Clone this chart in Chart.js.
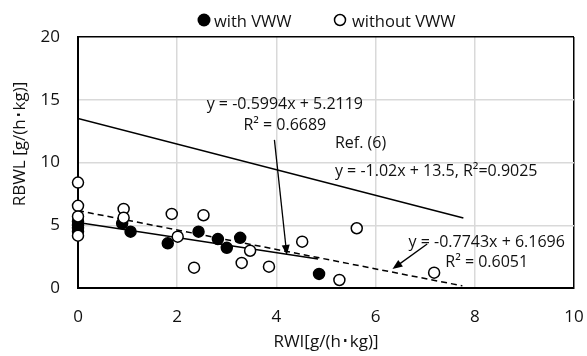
<!DOCTYPE html>
<html>
<head>
<meta charset="utf-8">
<script src="https://cdn.jsdelivr.net/npm/chart.js@4/dist/chart.umd.min.js"></script>
<style>
  html, body { margin: 0; padding: 0; background: #fff; }
  .chart-box { width: 587px; height: 356px; }
</style>
</head>
<body>
<div class="chart-box"><canvas id="rbwlChart"></canvas></div>
<script>
// measured points: with VWW (filled circles)
const withX = [0, 0, 0, 0, 0.89, 1.06, 1.81, 2.43, 2.82, 3.0, 3.27, 4.86];
const withY = [5.3, 5.0, 4.8, 4.5, 5.15, 4.49, 3.56, 4.49, 3.9, 3.2, 4.0, 1.12];

// measured points: without VWW (open circles)
const withoutX = [0, 0, 0, 0, 0.92, 0.92, 1.89, 2.01, 2.34, 2.53, 3.3, 3.47, 3.85, 4.52, 5.27, 5.62, 7.18];
const withoutY = [8.4, 6.55, 5.7, 4.17, 6.3, 5.6, 5.9, 4.09, 1.62, 5.8, 2.0, 2.97, 1.7, 3.69, 0.64, 4.76, 1.22];

// trend lines (end points)
const withFitX = [0, 4.84];
const withFitY = [5.21, 2.31];
const withoutFitX = [0, 7.75];
const withoutFitY = [6.17, 0.17];
const refFitX = [0, 7.77];
const refFitY = [13.5, 5.57];

const xTicks = [0, 2, 4, 6, 8, 10];
const yTicks = [0, 5, 10, 15, 20];

const seriesNames = ['with VWW', 'without VWW'];
const xTitle = 'RWI[g/(h\uFF65kg)]';
const yTitle = 'RBWL [g/(h\uFF65kg)]';

// equation labels, placed in data units
const notes = [
    { text: 'y = -0.5994x + 5.2119', x: 4.17, y: 14.3, align: 'center' },
    { text: 'R\u00B2 = 0.6689', x: 4.17, y: 12.55, align: 'center' },
    { text: 'Ref. (6)', x: 5.18, y: 11.12, align: 'left' },
    { text: 'y = -1.02x + 13.5, R\u00B2=0.9025', x: 5.18, y: 8.96, align: 'left' },
    { text: 'y = -0.7743x + 6.1696', x: 8.24, y: 3.27, align: 'center' },
    { text: 'R\u00B2 = 0.6051', x: 8.24, y: 1.67, align: 'center' }
];

const arrows = [
    { from: [3.96, 11.8], to: [4.21, 2.63] },
    { from: [7.04, 3.5], to: [6.34, 1.51] }
];

const FONT = '"Open Sans", "DejaVu Sans", sans-serif';
const TEXT = '#111';

function toPoints(xs, ys) {
    return xs.map((v, i) => ({ x: v, y: ys[i] }));
}

function drawArrow(ctx, x1, y1, x2, y2) {
    const ang = Math.atan2(y2 - y1, x2 - x1);
    const len = 10, half = 4;
    ctx.beginPath();
    ctx.moveTo(x1, y1);
    ctx.lineTo(x2 - Math.cos(ang) * len * 0.8, y2 - Math.sin(ang) * len * 0.8);
    ctx.stroke();
    ctx.beginPath();
    ctx.moveTo(x2, y2);
    ctx.lineTo(x2 - Math.cos(ang) * len - Math.sin(ang) * half, y2 - Math.sin(ang) * len + Math.cos(ang) * half);
    ctx.lineTo(x2 - Math.cos(ang) * len + Math.sin(ang) * half, y2 - Math.sin(ang) * len - Math.cos(ang) * half);
    ctx.closePath();
    ctx.fill();
}

// annotations, arrows, legend and the y title
const overlayPlugin = {
    id: 'overlay',
    afterDatasetsDraw(chart) {
        const { ctx, scales: { x, y } } = chart;
        ctx.save();
        ctx.strokeStyle = '#000';
        ctx.fillStyle = '#000';
        ctx.lineWidth = 1.3;
        arrows.forEach(a => {
            drawArrow(ctx,
                x.getPixelForValue(a.from[0]), y.getPixelForValue(a.from[1]),
                x.getPixelForValue(a.to[0]), y.getPixelForValue(a.to[1]));
        });

        ctx.fillStyle = TEXT;
        ctx.font = '16px ' + FONT;
        ctx.textBaseline = 'alphabetic';
        notes.forEach(n => {
            ctx.textAlign = n.align;
            ctx.fillText(n.text, x.getPixelForValue(n.x), y.getPixelForValue(n.y));
        });
        ctx.restore();
    },
    afterDraw(chart) {
        const ctx = chart.ctx;
        ctx.save();
        // legend
        ctx.font = '16.5px ' + FONT;
        ctx.textAlign = 'left';
        ctx.textBaseline = 'alphabetic';
        ctx.fillStyle = '#000';
        ctx.beginPath();
        ctx.arc(204, 20, 6.5, 0, Math.PI * 2);
        ctx.fill();
        ctx.fillStyle = TEXT;
        ctx.fillText(seriesNames[0], 214, 26.5);

        ctx.strokeStyle = '#000';
        ctx.lineWidth = 1.5;
        ctx.beginPath();
        ctx.arc(340, 20, 5.5, 0, Math.PI * 2);
        ctx.stroke();
        ctx.fillText(seriesNames[1], 352, 26.5);

        // y axis title (sits above the centre of the axis, like the original)
        ctx.translate(25, 144);
        ctx.rotate(-Math.PI / 2);
        ctx.textAlign = 'center';
        ctx.font = '17px ' + FONT;
        ctx.fillText(yTitle, 0, 0);
        ctx.restore();
    }
};

function createChart() {
    const ctx = document.getElementById('rbwlChart');

    const lineStyle = {
        type: 'scatter',
        showLine: true,
        pointRadius: 0,
        borderColor: '#000',
        borderWidth: 1.5,
        fill: false
    };

    return new Chart(ctx, {
        type: 'scatter',
        data: {
            datasets: [
                {
                    label: seriesNames[1],
                    data: toPoints(withoutX, withoutY),
                    pointRadius: 5.5,
                    pointBackgroundColor: '#fff',
                    pointBorderColor: '#000',
                    pointBorderWidth: 1.5,
                    clip: false
                },
                {
                    label: seriesNames[0],
                    data: toPoints(withX, withY),
                    pointRadius: 5.5,
                    pointBackgroundColor: '#000',
                    pointBorderColor: '#000',
                    pointBorderWidth: 1.5,
                    clip: false
                },
                Object.assign({ label: 'fit with', data: toPoints(withFitX, withFitY) }, lineStyle),
                Object.assign({ label: 'fit without', data: toPoints(withoutFitX, withoutFitY), borderDash: [6, 4] }, lineStyle),
                Object.assign({ label: 'Ref. (6)', data: toPoints(refFitX, refFitY) }, lineStyle)
            ]
        },
        options: {
            responsive: true,
            maintainAspectRatio: false,
            animation: false,
            layout: { padding: { top: 37, right: 13, left: 0, bottom: 0 } },
            plugins: {
                legend: { display: false },
                tooltip: { enabled: false }
            },
            scales: {
                x: {
                    type: 'linear',
                    min: 0,
                    max: 10,
                    afterBuildTicks: s => { s.ticks = xTicks.map(v => ({ value: v })); },
                    // fixed height, and no extra room for the "10" label on the right
                    afterFit: s => { s.height = 68; s.paddingRight = 0; s.paddingLeft = 0; },
                    ticks: { padding: 19, color: TEXT, font: { family: FONT, size: 17 } },
                    grid: {
                        drawTicks: false,
                        lineWidth: 1.5,
                        color: c => (c.tick && c.tick.value === 10 ? '#000' : '#d9d9d9')
                    },
                    border: { color: '#000', width: 2 },
                    title: {
                        display: true,
                        text: xTitle,
                        color: TEXT,
                        font: { family: FONT, size: 17 },
                        padding: { top: 0, bottom: 4 }
                    }
                },
                y: {
                    type: 'linear',
                    min: 0,
                    max: 20,
                    afterBuildTicks: s => { s.ticks = yTicks.map(v => ({ value: v })); },
                    afterFit: s => { s.width = 78; },
                    ticks: { padding: 18, color: TEXT, font: { family: FONT, size: 17 } },
                    grid: {
                        drawTicks: false,
                        lineWidth: 1.5,
                        color: c => (c.tick && c.tick.value === 20 ? '#000' : '#d9d9d9')
                    },
                    border: { color: '#000', width: 2 }
                }
            }
        },
        plugins: [overlayPlugin]
    });
}

window.rbwlChart = createChart();
</script>
</body>
</html>
